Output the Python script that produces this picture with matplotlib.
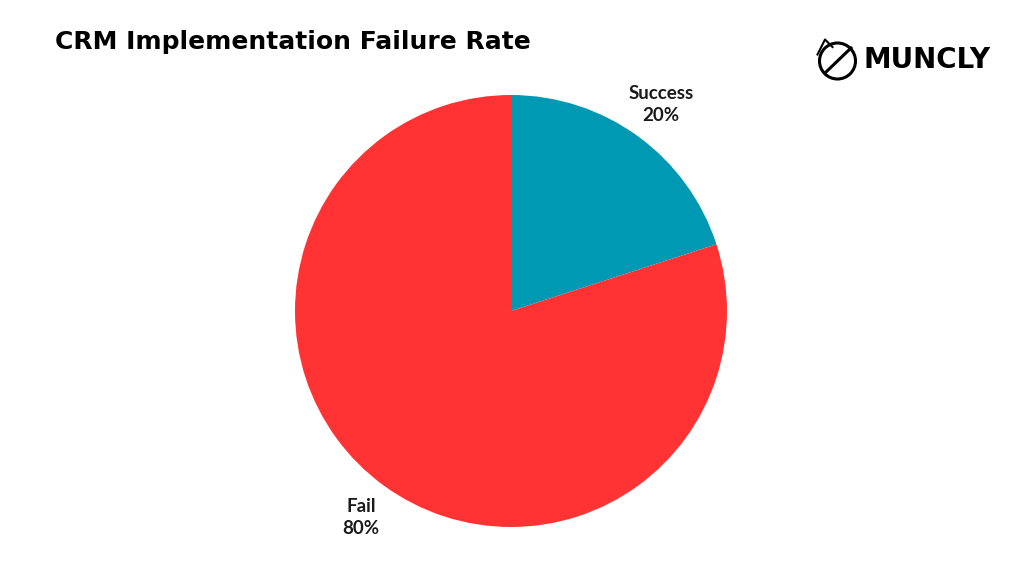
import matplotlib.pyplot as plt
from matplotlib.patches import Circle

labels = ['Success', 'Fail']
values = [20, 80]
colors = ['#0099B4', '#FF3333']

W, H = 1024, 576
cx, cy, r = 511, 265, 216  # pie centre (from bottom) and radius in px

fig = plt.figure(figsize=(W / 100, H / 100), dpi=100)
ax = fig.add_axes([0, 0, 1, 1])

texts = ['%s\n%d%%' % (l, v) for l, v in zip(labels, values)]
wedges, lbls = ax.pie(values, colors=colors, startangle=90, counterclock=False,
                      labels=texts, labeldistance=1.18,
                      textprops=dict(fontsize=13.5, fontweight='bold', color='#1a1a1a',
                                     ha='center', va='center', linespacing=1.35,
                                     family='Lato'))
for t in lbls:
    t.set_horizontalalignment('center')

ax.set_xlim(-cx / r, (W - cx) / r)
ax.set_ylim(-cy / r, (H - cy) / r)
ax.set_aspect('equal')
ax.axis('off')

fig.text(55 / W, 1 - 42 / H, 'CRM Implementation Failure Rate', fontsize=18,
         fontweight='bold', ha='left', va='center', color='black', family='DejaVu Sans')

# logo
fig.text(991 / W, 1 - 60 / H, 'MUNCLY', fontsize=20, fontweight='heavy',
         ha='right', va='center', color='black', family='DejaVu Sans')
ax2 = fig.add_axes([810 / W, 1 - 82 / H, 50 / W, 50 / H])
ax2.add_patch(Circle((0.55, 0.42), 0.36, fill=False, lw=2.2, ec='black'))
ax2.plot([0.3, 0.82], [0.18, 0.68], color='black', lw=2.2)
ax2.plot([0.15, 0.3, 0.45], [0.55, 0.85, 0.7], color='black', lw=1.5)
ax2.set_xlim(0, 1)
ax2.set_ylim(0, 1)
ax2.axis('off')

fig.savefig('out.png', dpi=100, facecolor='white')
